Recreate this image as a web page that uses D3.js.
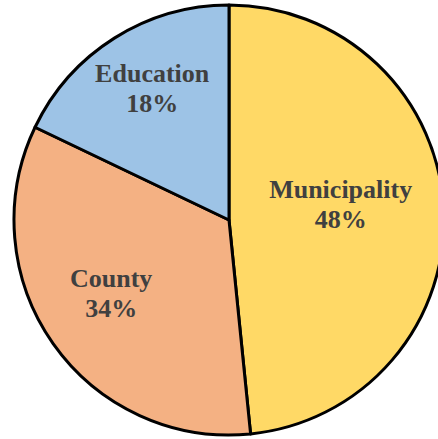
<!DOCTYPE html>
<html>
<head>
<meta charset="utf-8">
<script src="https://cdn.jsdelivr.net/npm/d3@7"></script>
<style>
  html, body { margin: 0; padding: 0; background: #fff; }
  svg { display: block; }
</style>
</head>
<body>
<script>
// slice data, clockwise from 12 o'clock (labels show rounded %)
const categories = ["Municipality", "County", "Education"];
const shares = [48.4, 33.7, 17.9];
const sliceColors = ["#FFD966", "#F4B183", "#9DC3E6"];

const W = 438, H = 439;
const cx = 229, cy = 220, radius = 215;

// Excel "best fit" puts the labels at different depths
const labelDepth = { Municipality: 0.52, County: 0.67, Education: 0.67 };

const svg = d3.select("body").append("svg")
  .attr("width", W)
  .attr("height", H);

const g = svg.append("g").attr("transform", `translate(${cx},${cy})`);

const pie = d3.pie().sort(null).value(d => d.value);
const arcs = pie(categories.map((c, i) => ({ name: c, value: shares[i], color: sliceColors[i] })));

const arc = d3.arc().innerRadius(0).outerRadius(radius);

g.selectAll("path.slice")
  .data(arcs)
  .enter()
  .append("path")
  .attr("class", "slice")
  .attr("d", arc)
  .attr("fill", d => d.data.color)
  .attr("stroke", "#000")
  .attr("stroke-width", 3)
  .attr("stroke-linejoin", "round");

const labels = g.selectAll("text.lbl")
  .data(arcs)
  .enter()
  .append("text")
  .attr("class", "lbl")
  .attr("transform", d => {
    const r = radius * labelDepth[d.data.name];
    const c = d3.arc().innerRadius(r).outerRadius(r).centroid(d);
    return `translate(${c[0]},${c[1]})`;
  })
  .attr("text-anchor", "middle")
  .attr("font-family", "'Liberation Serif', 'Times New Roman', serif")
  .attr("font-weight", "bold")
  .attr("font-size", 26)
  .attr("fill", "#404040");

labels.append("tspan")
  .attr("x", 0)
  .attr("y", -16)
  .text(d => d.data.name);

labels.append("tspan")
  .attr("x", 0)
  .attr("y", 14)
  .text(d => Math.round(d.data.value) + "%");
</script>
</body>
</html>
